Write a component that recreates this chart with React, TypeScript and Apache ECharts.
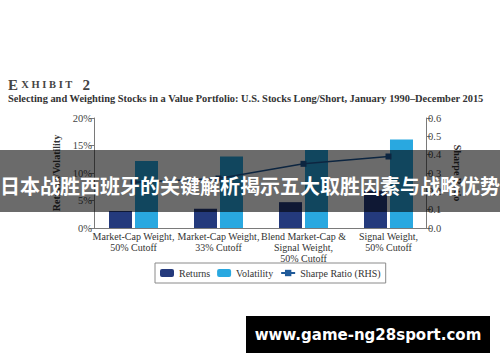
import React, { useEffect, useRef } from "react";
import * as echarts from "echarts";

const categories = [
  "Market-Cap Weight,\n50% Cutoff",
  "Market-Cap Weight,\n33% Cutoff",
  "Blend Market-Cap &\nSignal Weight,\n50% Cutoff",
  "Signal Weight,\n50% Cutoff",
];
const returnsPct = [3.1, 3.5, 4.7, 6.8];
const volatilityPct = [12.2, 13.0, 14.2, 16.1];
const sharpeRatio = [0.25, 0.27, 0.35, 0.39];
const leftTicks = { min: 0, max: 20, interval: 5 };
const rightTicks = { min: 0, max: 0.6, interval: 0.1 };

const titleText = "Selecting and Weighting Stocks in a Value Portfolio: U.S. Stocks Long/Short, January 1990\u2013December 2015";
const bannerText = "日本战胜西班牙的关键解析揭示五大取胜因素与战略优势";
const watermarkText = "www.game-ng28sport.com";

const SERIF = "'Liberation Serif', 'DejaVu Serif', serif";
const AXIS_COLOR = "#7a7a7a";
const LABEL_COLOR = "#444";

export default function App() {
  const ref = useRef<HTMLDivElement>(null);
  useEffect(() => {
    if (!ref.current) return;
    const chart = echarts.init(ref.current, null, { renderer: "svg" });
    chart.setOption({
      animation: false,
      backgroundColor: "#ffffff",
      grid: { left: 91, right: 69, top: 118, bottom: 134 },
      legend: {
        top: 263,
        left: 155,
        padding: [5, 5],
        borderColor: "#8a8a8a",
        borderWidth: 1,
        itemWidth: 14,
        itemHeight: 8,
        itemGap: 7,
        textStyle: { fontFamily: SERIF, fontSize: 10, color: "#333" },
        data: ["Returns", "Volatility", "Sharpe Ratio (RHS)"],
      },
      xAxis: {
        type: "category",
        data: categories,
        axisLine: { show: true, lineStyle: { color: AXIS_COLOR, width: 1 } },
        axisTick: { show: false },
        axisLabel: {
          interval: 0,
          margin: 3,
          fontFamily: SERIF,
          fontSize: 10,
          lineHeight: 11,
          color: "#333",
        },
      },
      yAxis: [
        {
          type: "value",
          min: leftTicks.min,
          max: leftTicks.max,
          interval: leftTicks.interval,
          offset: -3,
          position: "left",
          name: "Returns/Volatility",
          nameLocation: "middle",
          nameGap: 31,
          nameRotate: 90,
          nameTextStyle: { fontFamily: SERIF, fontSize: 10, fontWeight: "bold", color: "#333" },
          axisLine: { show: true, lineStyle: { color: AXIS_COLOR, width: 1 } },
          axisTick: { show: true, length: 5, lineStyle: { color: AXIS_COLOR } },
          splitLine: { show: false },
          axisLabel: {
            formatter: "{value}%",
            margin: 2,
            fontFamily: SERIF,
            fontSize: 10.5,
            color: LABEL_COLOR,
          },
        },
        {
          type: "value",
          min: rightTicks.min,
          max: rightTicks.max,
          interval: rightTicks.interval,
          offset: -5,
          position: "right",
          name: "Sharpe Ratio",
          nameLocation: "middle",
          nameGap: 26,
          nameRotate: -90,
          nameTextStyle: { fontFamily: SERIF, fontSize: 10, fontWeight: "bold", color: "#333" },
          axisLine: { show: true, lineStyle: { color: AXIS_COLOR, width: 1 } },
          axisTick: { show: true, length: 5, lineStyle: { color: AXIS_COLOR } },
          splitLine: { show: false },
          axisLabel: {
            formatter: (v: number) => v.toFixed(1),
            margin: 2,
            fontFamily: SERIF,
            fontSize: 10.5,
            color: LABEL_COLOR,
          },
        },
      ],
      series: [
        {
          name: "Returns",
          type: "bar",
          data: returnsPct,
          barWidth: 23,
          barGap: "13%",
          itemStyle: { color: "#243a7c" },
        },
        {
          name: "Volatility",
          type: "bar",
          data: volatilityPct,
          barWidth: 23,
          itemStyle: { color: "#29a8e0" },
        },
        {
          name: "Sharpe Ratio (RHS)",
          type: "line",
          yAxisIndex: 1,
          data: sharpeRatio,
          symbol: "rect",
          symbolSize: 6,
          lineStyle: { color: "#1f5a99", width: 1.5 },
          itemStyle: { color: "#1f5a99" },
        },
      ],
      graphic: [
        {
          type: "text",
          left: 8,
          top: 77,
          style: {
            text: "{a|E} {b|X H I B I T}   {a|2}",
            rich: {
              a: { fontFamily: SERIF, fontSize: 15, fontWeight: "bold", fill: "#444" },
              b: { fontFamily: SERIF, fontSize: 10.5, fontWeight: "bold", fill: "#444" },
            },
          },
        },
        {
          type: "text",
          left: 8,
          top: 93,
          style: {
            text: titleText,
            fontFamily: SERIF,
            fontSize: 10.4,
            fontWeight: "bold",
            fill: "#333",
          },
        },
        {
          type: "rect",
          z: 100,
          shape: { x: 0, y: 150, width: 500, height: 62 },
          style: { fill: "rgba(0,0,0,0.58)" },
        },
        {
          type: "text",
          z: 101,
          x: 250,
          y: 185,
          style: {
            text: bannerText,
            fontFamily: "'Noto Sans CJK SC', sans-serif",
            fontSize: 20,
            fontWeight: "bold",
            fill: "#ffffff",
            align: "center",
            verticalAlign: "middle",
          },
        },
        {
          type: "rect",
          z: 100,
          shape: { x: 246, y: 316, width: 244, height: 37 },
          style: { fill: "#000000" },
        },
        {
          type: "text",
          z: 101,
          x: 368,
          y: 335,
          style: {
            text: watermarkText,
            fontFamily: "'DejaVu Sans', sans-serif",
            fontSize: 15,
            fontWeight: "bold",
            fill: "#ffffff",
            align: "center",
            verticalAlign: "middle",
          },
        },
      ],
    });
    return () => chart.dispose();
  }, []);
  return (
    <div
      ref={ref}
      style={{ position: "fixed", left: 0, top: 0, width: 500, height: 362 }}
    />
  );
}
